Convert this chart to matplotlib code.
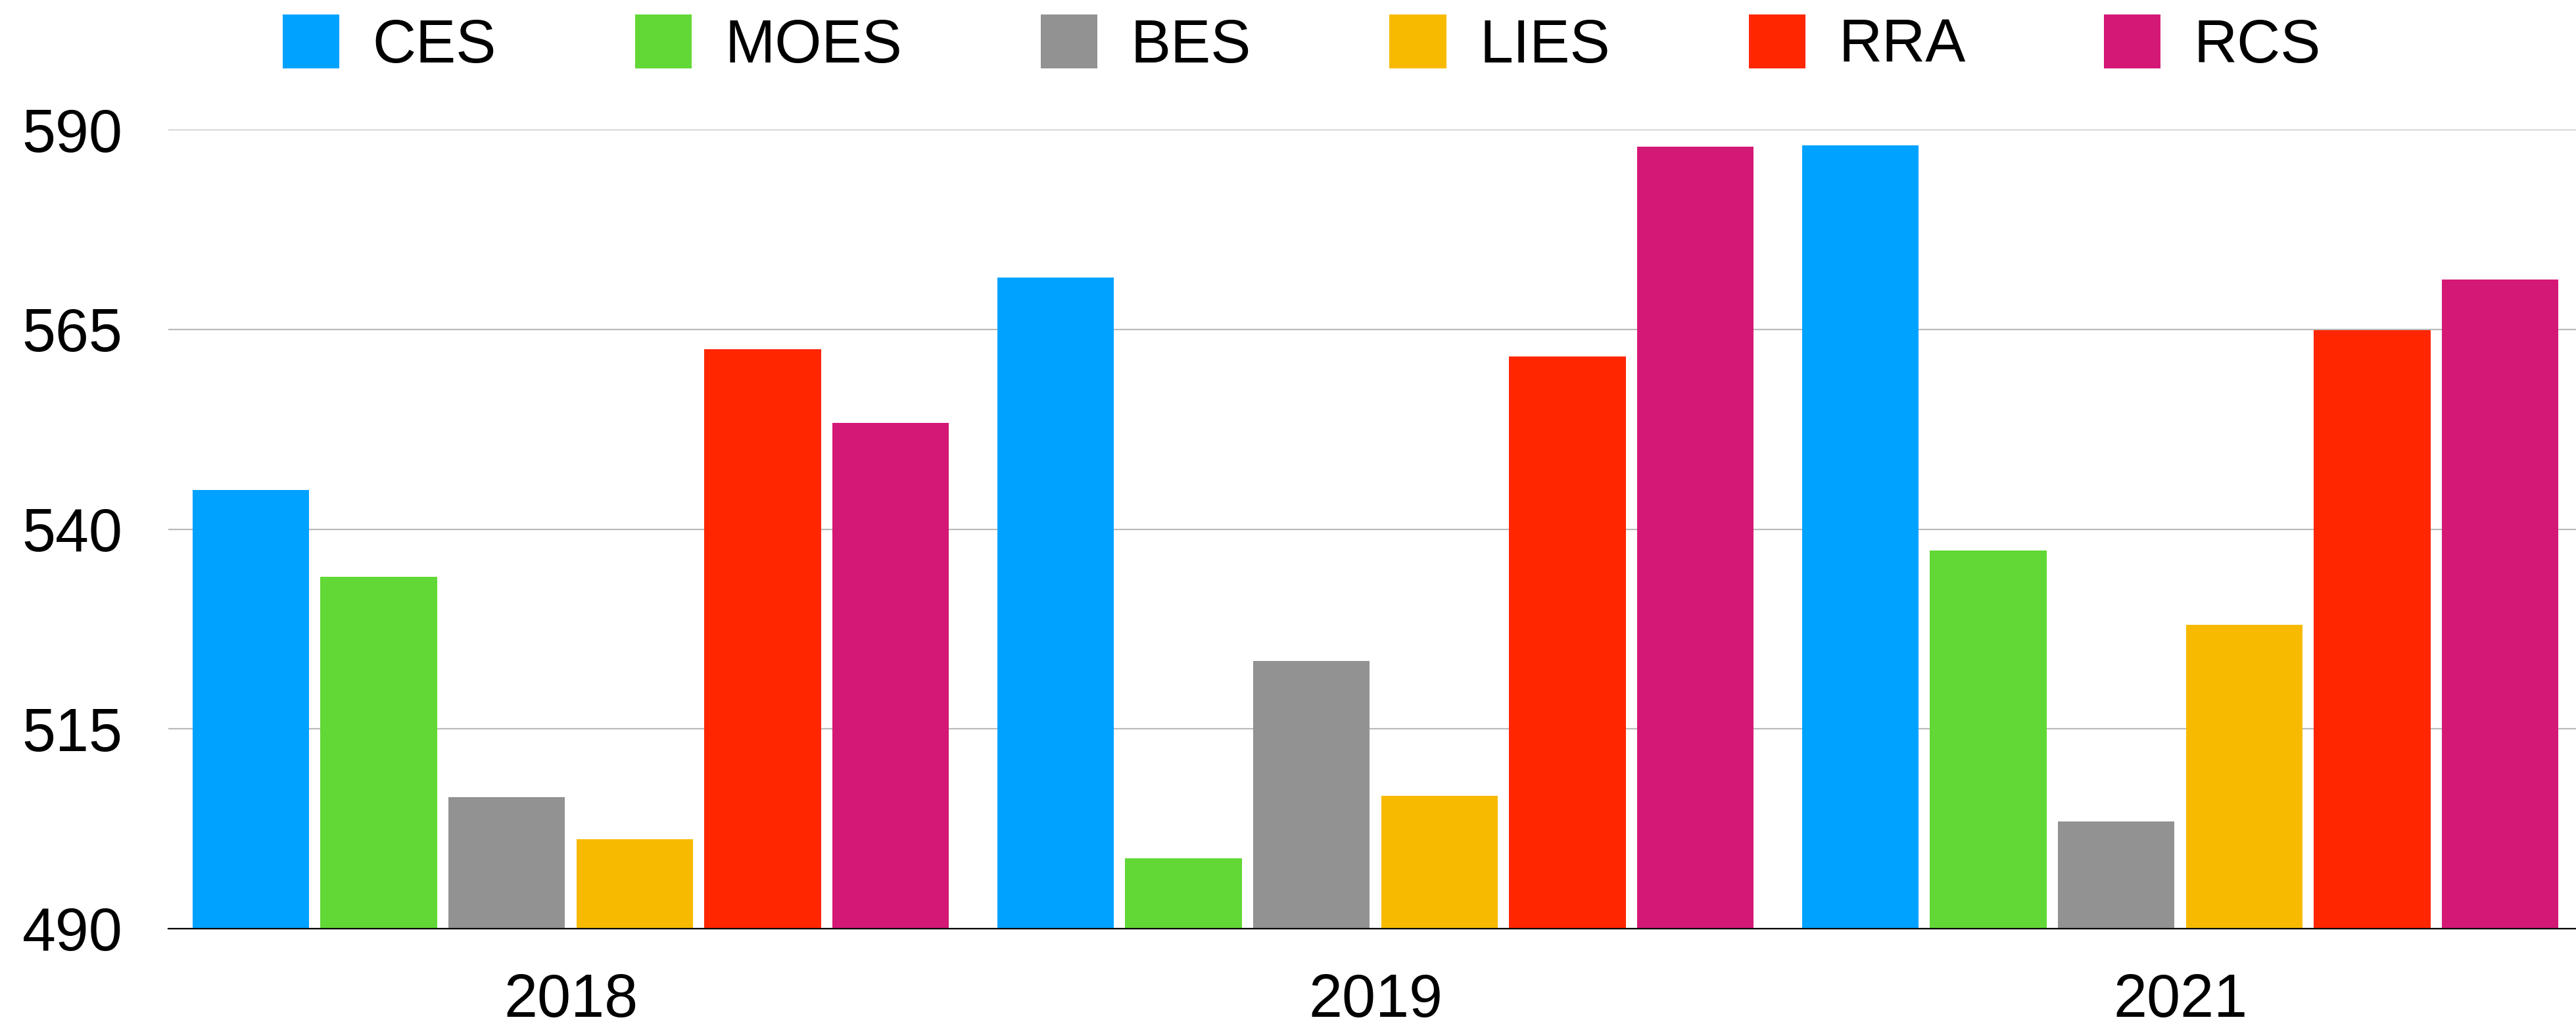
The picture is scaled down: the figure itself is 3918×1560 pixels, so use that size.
import matplotlib
matplotlib.use("Agg")
import matplotlib.pyplot as plt
import numpy as np

# ── data ──────────────────────────────────────────────────────────────
years = ["2018", "2019", "2021"]
series = ["CES", "MOES", "BES", "LIES", "RRA", "RCS"]
ces = [544.9, 571.5, 588.0]
moes = [534.0, 498.8, 537.3]
bes = [506.5, 523.5, 503.4]
lies = [501.2, 506.6, 528.0]
rra = [562.5, 561.6, 564.9]
rcs = [553.3, 587.9, 571.2]
yticks = [490, 515, 540, 565, 590]

colors = ["#00A2FF", "#61D836", "#929292", "#F8BA00", "#FF2600", "#D41876"]

plt.rcParams["font.family"] = ["Liberation Sans", "DejaVu Sans"]

W, H = 3918, 1560
fig = plt.figure(figsize=(W / 100, H / 100), dpi=100)
ax = fig.add_axes([256 / W, 1 - 1412 / H, 3672 / W, (1412 - 197) / H])

x = np.arange(len(years))
pitch, width = 0.159, 0.145
values = [ces, moes, bes, lies, rra, rcs]
base = yticks[0]
for k, (name, vals, c) in enumerate(zip(series, values, colors)):
    ax.bar(x + (k - 2.5) * pitch, np.array(vals) - base, width=width,
           bottom=base, color=c, label=name, zorder=3)

ax.set_xlim(-0.5, 2.5)
ax.set_ylim(yticks[0], yticks[-1])
ax.set_yticks(yticks)
ax.set_xticks(x)
ax.set_xticklabels(years)
ax.tick_params(axis="both", length=0, labelsize=66)
ax.tick_params(axis="y", pad=50)
ax.tick_params(axis="x", pad=48)

ax.grid(True, axis="y", color="#BBBBBB", linewidth=1.6, zorder=0)
for s in ["top", "right", "left"]:
    ax.spines[s].set_visible(False)
ax.spines["bottom"].set_color("black")
ax.spines["bottom"].set_linewidth(1.6)
ax.spines["bottom"].set_zorder(4)

fig.legend(loc="center", bbox_to_anchor=(1980 / W, 1 - 68 / H), ncol=6,
           frameon=False, fontsize=66, handlelength=0.94, handleheight=1.0,
           handletextpad=0.55, columnspacing=2.3)

fig.savefig("out.png", dpi=100)
